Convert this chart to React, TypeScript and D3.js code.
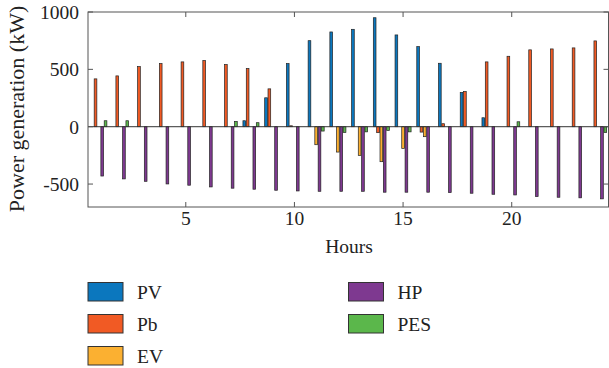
import React from 'react';
import * as d3 from 'd3';

const hours = d3.range(1, 25);
const seriesNames = ['PV', 'Pb', 'EV', 'HP', 'PES'];
const seriesColors = ['#0B77BE', '#F15A24', '#FBB031', '#7E3990', '#5BB74B'];

const PV = [0, 0, 0, 0, 0, 0, 0, 52, 252, 550, 750, 826, 849, 950, 800, 698, 553, 298, 78, 0, 0, 0, 0, 0];
const Pb = [417, 443, 524, 550, 565, 577, 542, 507, 330, 8, 0, 0, 0, -52, 0, -47, 26, 307, 565, 614, 670, 678, 687, 748];
const EV = [0, 0, 0, 0, 0, 0, 0, 0, 0, 0, -157, -221, -250, -305, -189, -87, 0, 0, 0, 0, 0, 0, 0, 0];
const HP = [-430, -455, -476, -499, -510, -525, -536, -545, -554, -560, -563, -563, -563, -571, -571, -571, -574, -580, -589, -595, -609, -615, -620, -629];
const PES = [52, 52, 0, 0, 0, 0, 46, 35, 0, 0, -38, -50, -45, -32, -45, 0, 0, 0, 0, 43, 0, 0, 0, -50];

const seriesValues = [PV, Pb, EV, HP, PES];
const xTicks = [5, 10, 15, 20];
const yTicks = [-500, 0, 500, 1000];

const PLOT = { left: 88, top: 12, right: 608.5, bottom: 207 };
const FONT = '"Liberation Serif", "Times New Roman", serif';

const App = () => {
  const width = 609;
  const height = 368;

  const x = d3.scaleLinear().domain([0.5, 24.5]).range([PLOT.left, 609.5]);
  const y = d3.scaleLinear().domain([-700, 1000]).range([PLOT.bottom, PLOT.top]);

  // matlab style grouped bars
  const groupWidth = Math.min(0.8, 5 / 6.5);
  const step = groupWidth / seriesNames.length;
  const barW = x(step * 0.8) - x(0);

  const bars = seriesValues.map((vals, s) =>
    vals.map((v, i) => {
      const cx = x(hours[i] + (s - 2) * step);
      const y0 = y(Math.max(0, v));
      const y1 = y(Math.min(0, v));
      return (
        <rect
          key={`${s}-${i}`}
          x={cx - barW / 2}
          y={y0}
          width={barW}
          height={Math.max(0, y1 - y0)}
          fill={seriesColors[s]}
          stroke="#222"
          strokeWidth={0.7}
        />
      );
    })
  );

  const legendItems = [
    { i: 0, col: 0, row: 0 },
    { i: 1, col: 0, row: 1 },
    { i: 2, col: 0, row: 2 },
    { i: 3, col: 1, row: 0 },
    { i: 4, col: 1, row: 1 },
  ];

  return (
    <svg width={width} height={height} style={{ position: 'absolute', left: 0, top: 0, background: '#fff' }}>
      {bars}
      {/* baseline */}
      <line x1={PLOT.left} x2={PLOT.right} y1={y(0)} y2={y(0)} stroke="#333" strokeWidth={1} />

      {/* box */}
      <rect
        x={PLOT.left}
        y={PLOT.top}
        width={PLOT.right - PLOT.left}
        height={PLOT.bottom - PLOT.top}
        fill="none"
        stroke="#555"
        strokeWidth={1}
      />

      {xTicks.map((t) => (
        <g key={t}>
          <line x1={x(t)} x2={x(t)} y1={PLOT.bottom} y2={PLOT.bottom - 5} stroke="#555" />
          <line x1={x(t)} x2={x(t)} y1={PLOT.top} y2={PLOT.top + 5} stroke="#555" />
          <text x={x(t)} y={225} textAnchor="middle" fontFamily={FONT} fontSize={19.5} fill="#222">
            {t}
          </text>
        </g>
      ))}

      {yTicks.map((t) => (
        <g key={t}>
          <line x1={PLOT.left} x2={PLOT.left + 5} y1={y(t)} y2={y(t)} stroke="#555" />
          <line x1={PLOT.right} x2={PLOT.right - 5} y1={y(t)} y2={y(t)} stroke="#555" />
          <text x={79} y={y(t)} dy="0.35em" textAnchor="end" fontFamily={FONT} fontSize={19.5} fill="#222">
            {t}
          </text>
        </g>
      ))}

      <text x={349} y={253} textAnchor="middle" fontFamily={FONT} fontSize={19.5} fill="#222">
        Hours
      </text>
      <text
        transform="translate(24, 109) rotate(-90)"
        textAnchor="middle"
        fontFamily={FONT}
        fontSize={22}
        fill="#222"
      >
        Power generation (kW)
      </text>

      {legendItems.map(({ i, col, row }) => {
        const bx = col === 0 ? 88 : 348.5;
        const by = 282.5 + row * 32;
        return (
          <g key={i}>
            <rect x={bx} y={by} width={35} height={18.5} fill={seriesColors[i]} stroke="#333" strokeWidth={1} />
            <text x={bx + 49} y={by + 9.5} dy="0.35em" fontFamily={FONT} fontSize={19.5} fill="#222">
              {seriesNames[i]}
            </text>
          </g>
        );
      })}
    </svg>
  );
};

export default App;
